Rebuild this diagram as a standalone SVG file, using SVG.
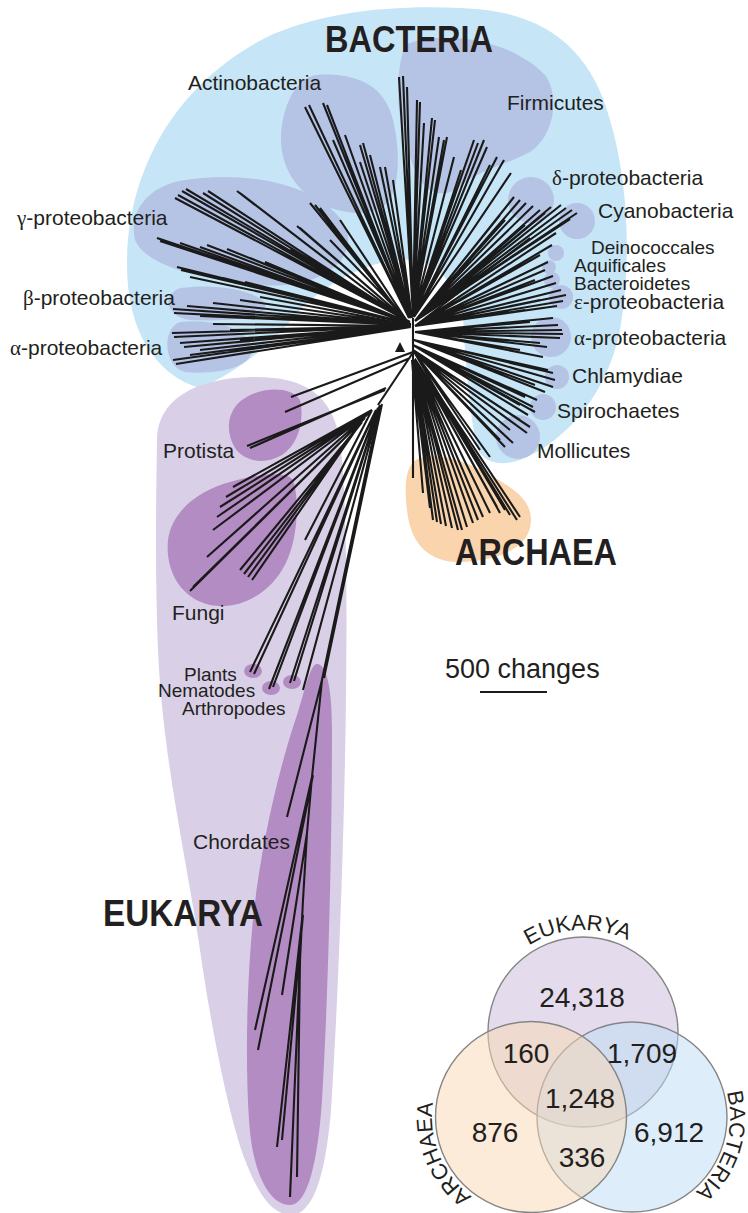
<svg xmlns="http://www.w3.org/2000/svg" width="748" height="1213" viewBox="0 0 748 1213">
<defs>
<style>
.lbl{font-family:"Liberation Sans",Arial,sans-serif;font-size:21px;fill:#231f20}
.sm{font-size:19px}
.gr{font-family:"Liberation Serif","Times New Roman",serif}
.dom{font-family:"Liberation Sans",Arial,sans-serif;font-size:36px;font-weight:bold;fill:#231f20}
.num{font-family:"Liberation Sans",Arial,sans-serif;font-size:28px;fill:#231f20;text-anchor:middle}
.arc{font-family:"Liberation Sans",Arial,sans-serif;font-size:22px;fill:#231f20}
.tree{fill:none;stroke:#1a1a1a;stroke-width:2.1;stroke-linecap:butt}
.bclade{fill:#b5c4e5}
.eclade{fill:#b48cc4}
.venn{stroke:#858585;stroke-width:1.4;fill-opacity:0.5}
</style>
<path id="arcE" d="M496.5 977.9 A102 102 0 0 1 663.4 969.2"/>
<path id="arcA" d="M513.8 1214.5 A99 99 0 0 1 449.9 1060.2"/>
<path id="arcB" d="M707 1054 A98 98 0 0 1 657.4 1211.7"/>
</defs>
<rect width="748" height="1213" fill="#ffffff"/>

<g id="bacteria-region">
<path fill="#c6e6f8" d="M200 388 C155 375,127 330,127 265 C127 170,175 85,265 38 C320 12,390 5,460 8 C540 10,590 45,610 120 C628 180,632 260,620 330 C608 390,570 440,520 460 C500 467,485 462,478 450 C470 420,465 360,463 315 C455 280,435 262,410 260 C375 258,330 280,300 310 C275 340,245 368,200 388 Z"/>
<path id="actinobacteria" class="bclade" d="M317 75 C355 72,385 85,393 120 C400 150,400 180,390 200 C375 220,335 215,310 197 C285 178,278 150,282 125 C287 95,300 77,317 75 Z"/>
<path id="firmicutes" class="bclade" d="M405 45 C440 30,510 38,545 75 C560 95,555 135,530 152 C505 165,480 170,462 185 C445 200,425 195,415 170 C402 140,390 90,405 45 Z"/>
<path id="gamma" class="bclade" d="M185 180 C250 170,320 185,345 225 C360 260,320 290,260 285 C200 280,145 265,135 240 C128 210,150 185,185 180 Z"/>
<path id="beta" class="bclade" d="M180 288 C215 283,255 290,265 303 C270 318,230 322,190 320 C168 318,160 296,180 288 Z"/>
<path id="alpha-left" class="bclade" d="M180 322 C215 318,250 330,252 348 C254 368,215 375,185 372 C165 368,160 330,180 322 Z"/>
<circle id="delta" class="bclade" cx="531" cy="200" r="23"/>
<circle id="cyano" class="bclade" cx="577" cy="221" r="18"/>
<circle id="deino" class="bclade" cx="556" cy="253" r="8"/>
<circle id="aquif" class="bclade" cx="549" cy="267" r="7"/>
<circle id="bacteroid" class="bclade" cx="552" cy="280" r="8"/>
<circle id="epsilon" class="bclade" cx="561" cy="297" r="12"/>
<circle id="alpha-right" class="bclade" cx="551" cy="337" r="20"/>
<circle id="chlamydiae" class="bclade" cx="557" cy="377" r="12"/>
<circle id="spiro" class="bclade" cx="543" cy="407" r="13"/>
<circle id="mollicutes" class="bclade" cx="518" cy="437" r="22"/>
</g>

<g id="archaea-region">
<path fill="#f9d4ad" d="M420 458 C440 452,470 462,495 478 C520 492,535 505,530 528 C524 552,490 562,455 562 C425 560,410 540,407 510 C404 485,405 463,420 458 Z"/>
</g>

<g id="eukarya-region">
<path fill="#d9d0e7" d="M157 440 C157 400,195 378,252 377 C305 376,332 395,340 440 C347 500,347 600,346 700 C344 850,338 1000,331 1110 C326 1170,315 1213,292 1215 C268 1215,255 1185,245 1160 C228 1115,210 1020,200 950 C185 850,163 760,158 650 C155 580,156 500,157 440 Z"/>
<path id="protista" class="eclade" d="M245 398 C260 388,290 385,300 400 C305 420,298 445,282 455 C265 465,245 462,235 448 C224 430,228 408,245 398 Z"/>
<path id="fungi" class="eclade" d="M293 480 C300 500,298 545,282 570 C265 598,235 610,210 605 C180 598,165 570,168 540 C172 510,200 490,230 482 C255 475,285 470,293 480 Z"/>
<ellipse id="plants" class="eclade" cx="253" cy="671" rx="9" ry="7"/>
<ellipse id="nematodes" class="eclade" cx="271" cy="688" rx="9" ry="7"/>
<ellipse id="arthropodes" class="eclade" cx="292" cy="682" rx="9" ry="7"/>
<path id="chordates" class="eclade" d="M317 664 C327 664,332 690,332 730 C332 850,328 1000,322 1100 C318 1160,308 1205,290 1205 C268 1205,252 1170,249 1120 C245 1060,247 980,253 920 C260 850,278 770,298 712 C305 690,310 664,317 664 Z"/>
</g>

<g id="tree">
<path class="tree" d="M410 322L175 198 M410 322L178 195 M408 321L182 191 M408 321L186 189 M406 320L203 193 M406 320L208 191 M404 319L237 191 M404 319L240 193 M410 323L157 238 M410 323L160 241 M409 323L180 243 M409 323L200 247 M408 322L207 245 M408 322L227 249 M402 316L310 203 M402 316L315 205 M402 316L320 208 M404 318L297 226 M404 318L300 228 M405 318L340 220 M410 323L250 258 M410 323L265 262 M411 324L177 267 M411 324L181 270 M411 324L190 277 M411 324L207 275 M411 324L223 278 M411 324L245 282 M406 319L330 240 M409 322L290 250"/>
<path class="tree" d="M411 325L173 309 M411 325L174 313 M411 325L187 306 M411 325L213 303 M411 325L240 300 M411 325L200 316 M411 325L260 297 M411 326L172 333 M411 326L174 337 M411 326L180 343 M411 326L184 347 M411 327L173 360 M411 327L176 364 M411 326L200 350 M411 326L213 324 M411 327L190 355 M411 326L230 330 M411 326L240 340"/>
<path class="tree" d="M409 318L305 107 M409 318L309 105 M409 318L323 103 M409 318L327 105 M410 318L333 140 M410 318L345 135 M411 318L360 145 M411 318L363 143 M411 318L370 155 M411 318L360 162 M412 318L380 167 M412 318L385 167 M412 318L393 180"/>
<path class="tree" d="M413 316L399 77 M413 316L403 76 M413 316L407 87 M413 316L417 100 M413 316L420 102 M413 316L424 123 M413 316L432 118 M413 316L435 120 M413 316L439 137 M413 316L444 140 M413 316L447 137 M413 317L454 157 M413 317L461 170 M413 317L467 160 M413 317L474 140 M413 317L478 143 M413 317L484 140 M413 317L487 147 M414 317L490 165 M414 317L497 157 M414 317L504 160 M414 317L511 173"/>
<path class="tree" d="M415 321L514 197 M415 321L520 200 M415 321L526 203 M415 321L533 206 M415 321L540 210 M415 321L545 213 M415 321L551 207 M415 321L500 215 M415 321L505 220 M415 321L561 205 M415 321L566 208 M415 321L572 210 M415 321L577 213 M415 321L570 219 M415 321L525 225"/>
<path class="tree" d="M415 326L530 238 M415 326L552 245 M415 326L556 233 M415 326L540 255 M415 326L548 262 M415 326L545 270 M415 326L553 276 M415 326L556 283 M415 326L561 290 M415 326L566 295 M415 326L563 301 M415 326L557 306 M415 326L540 300 M415 326L525 310 M415 326L535 280"/>
<path class="tree" d="M415 332L553 318 M415 332L558 325 M415 332L562 330 M415 332L563 334 M415 332L560 338 M415 332L547 347 M415 332L543 357 M415 332L540 343 M415 332L520 350 M415 332L530 322 M414 340L553 373 M414 340L555 380 M414 340L553 387 M414 340L548 370 M414 340L545 392 M414 340L535 385 M413 345L537 400 M413 345L533 407 M413 345L535 412 M413 345L528 415 M413 345L525 397 M413 345L520 405 M413 350L530 427 M413 350L527 433 M413 350L513 443 M413 350L505 447 M413 350L490 457 M413 350L500 440 M413 350L520 420 M413 350L480 450 M413 350L510 430 M413 350L470 448 M413 350L495 435"/>
<path class="tree" d="M413 318L413 478 M412 360L423 493 M412 360L430 508 M413 360L433 520 M413 360L437 522 M413 360L441 524 M414 360L446 526 M414 360L452 528 M414 360L458 530 M414 360L462 530 M415 360L467 527 M415 360L473 523 M415 359L478 520 M415 359L483 517 M415 359L490 513 M415 359L497 507 M415 359L500 513 M415 359L505 510 M415 359L510 515 M415 359L517 520 M415 359L520 517"/>
<path class="tree" d="M413 352L291 397 M410 358L285 412 M412 354L378 405 M386 388L250 448 M385 390L247 446 M372 410L233 487 M372 410L226 497 M370 412L220 507 M370 412L217 517 M368 414L213 530 M368 414L207 557 M365 418L193 587 M365 418L190 591 M362 422L240 570 M362 422L244 574 M360 424L248 577 M360 424L252 580 M372 410L305 540 M376 410L250 672 M376 410L254 674 M378 408L269 689 M378 408L273 687 M379 407L290 683 M379 407L294 681 M380 406L303 690"/>
<path class="tree" d="M380 405L322 680L312 777L307 833L303 900L300 960L290 1197 M382 404L324 678 M322 680L287 817 M312 777L255 1030 M313 775L258 1050 M307 833L282 995 M302 920L277 1147 M303 915L282 1140 M300 960L297 1177"/>
<polygon id="root" points="395,352 405,352 400,342" fill="#1a1a1a"/>
</g>

<g id="labels">
<text class="dom" x="325" y="52" textLength="168" lengthAdjust="spacingAndGlyphs">BACTERIA</text>
<text class="dom" x="455" y="565" textLength="162" lengthAdjust="spacingAndGlyphs">ARCHAEA</text>
<text class="dom" x="103" y="926" textLength="160" lengthAdjust="spacingAndGlyphs">EUKARYA</text>
<text class="lbl" x="188" y="90">Actinobacteria</text>
<text class="lbl" x="507" y="110">Firmicutes</text>
<text class="lbl" x="552" y="185"><tspan class="gr">δ</tspan>-proteobacteria</text>
<text class="lbl" x="598" y="218">Cyanobacteria</text>
<text class="lbl sm" x="591" y="254">Deinococcales</text>
<text class="lbl sm" x="574" y="272">Aquificales</text>
<text class="lbl sm" x="574" y="290">Bacteroidetes</text>
<text class="lbl" x="574" y="309"><tspan class="gr">ε</tspan>-proteobacteria</text>
<text class="lbl" x="574" y="345"><tspan class="gr">α</tspan>-proteobacteria</text>
<text class="lbl" x="572" y="383">Chlamydiae</text>
<text class="lbl" x="557" y="418">Spirochaetes</text>
<text class="lbl" x="537" y="458">Mollicutes</text>
<text class="lbl" x="17" y="225"><tspan class="gr">γ</tspan>-proteobacteria</text>
<text class="lbl" x="23" y="305"><tspan class="gr">β</tspan>-proteobacteria</text>
<text class="lbl" x="10" y="355"><tspan class="gr">α</tspan>-proteobacteria</text>
<text class="lbl" x="163" y="458">Protista</text>
<text class="lbl" x="172" y="620">Fungi</text>
<text class="lbl sm" x="184" y="681">Plants</text>
<text class="lbl sm" x="158" y="697">Nematodes</text>
<text class="lbl sm" x="182" y="715">Arthropodes</text>
<text class="lbl" x="193" y="849">Chordates</text>
</g>

<g id="scale-bar">
<text class="lbl" x="445" y="678" style="font-size:27px">500 changes</text>
<line x1="480" y1="692" x2="547" y2="692" stroke="#1a1a1a" stroke-width="2"/>
</g>

<g id="venn">
<circle class="venn" cx="583" cy="1032" r="95" fill="#c9b9d9"/>
<circle class="venn" cx="632" cy="1117" r="95" fill="#bbddf5"/>
<circle class="venn" cx="531" cy="1117" r="95.5" fill="#f9d7b3"/>
<text class="num" x="582" y="1007">24,318</text>
<text class="num" x="526" y="1063">160</text>
<text class="num" x="642" y="1063">1,709</text>
<text class="num" x="580" y="1108">1,248</text>
<text class="num" x="495" y="1142">876</text>
<text class="num" x="669" y="1142">6,912</text>
<text class="num" x="582" y="1167">336</text>
<text class="arc"><textPath href="#arcE" startOffset="50%" text-anchor="middle">EUKARYA</textPath></text>
<text class="arc"><textPath href="#arcA" startOffset="50%" text-anchor="middle">ARCHAEA</textPath></text>
<text class="arc"><textPath href="#arcB" startOffset="50%" text-anchor="middle">BACTERIA</textPath></text>
</g>
</svg>
